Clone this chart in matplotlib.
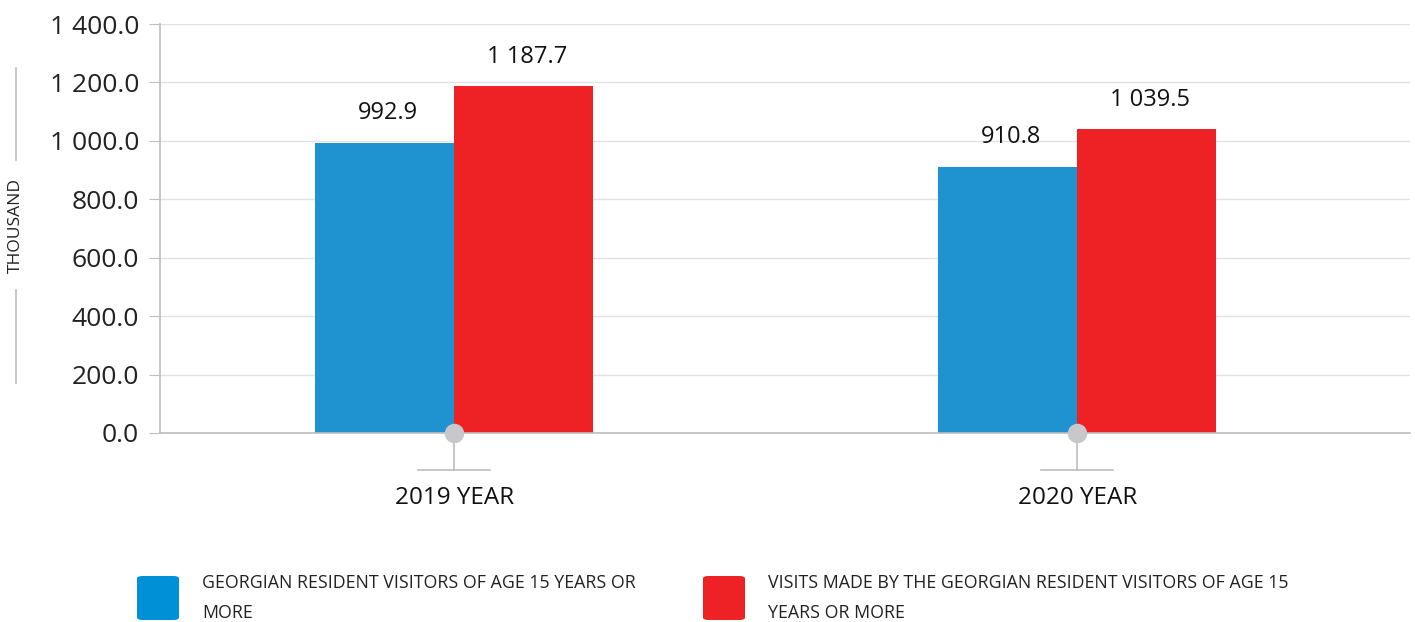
import matplotlib
matplotlib.use("Agg")
import matplotlib.pyplot as plt
from matplotlib.patches import FancyBboxPatch
from matplotlib.lines import Line2D
import numpy as np

categories = ["2019 YEAR", "2020 YEAR"]
residents = [992.9, 910.8]
visits = [1187.7, 1039.5]
series_names = ["GEORGIAN RESIDENT VISITORS OF AGE 15 YEARS OR\nMORE",
                "VISITS MADE BY THE GEORGIAN RESIDENT VISITORS OF AGE 15\nYEARS OR MORE"]
yticks = [0, 200, 400, 600, 800, 1000, 1200, 1400]

BLUE = "#1f93d0"
RED = "#ee2125"
GRID = "#e3e3e3"
AXC = "#bdbdbd"

plt.rcParams['font.family'] = ['Open Sans', 'DejaVu Sans']

def fmt(v):
    s = f"{v:,.1f}"
    return s.replace(",", " ")

fig = plt.figure(figsize=(14.15, 6.22), dpi=100)
ax = fig.add_axes([160/1415, 1-433/622, 1250/1415, (433-24)/622])

x = np.arange(len(categories))
w = 0.223
ax.bar(x - w/2, residents, w, color=BLUE, zorder=2)
ax.bar(x + w/2, visits, w, color=RED, zorder=2)

for xi, v in zip(x - w/2, residents):
    ax.text(xi + 0.006, v + 103, fmt(v), ha="center", va="center", fontsize=17, color="#111111")
for xi, v in zip(x + w/2, visits):
    ax.text(xi + 0.006, v + 100, fmt(v), ha="center", va="center", fontsize=17, color="#111111")

ax.set_xlim(-0.472, 1.534)
ax.set_ylim(0, 1400)
ax.set_yticks(yticks)
ax.set_yticklabels([fmt(t) for t in yticks], fontsize=19, color="#222222")
ax.yaxis.grid(True, color=GRID, linewidth=1, zorder=0)
ax.set_axisbelow(True)
for s in ["top", "right"]:
    ax.spines[s].set_visible(False)
ax.spines["left"].set_color(AXC)
ax.spines["bottom"].set_color(AXC)
ax.spines["left"].set_linewidth(1.2)
ax.spines["bottom"].set_linewidth(1.2)
ax.tick_params(axis="y", length=8, color=AXC, pad=7)
ax.set_xticks([])

# category markers and labels
for xi, c in zip(x, categories):
    ax.plot([xi], [0], marker="o", markersize=13, color="#c8c8cc", clip_on=False, zorder=5)
    ax.plot([xi, xi], [0, -37/409*1400], color=AXC, lw=1.2, clip_on=False, zorder=4)
    ax.plot([xi - 36/623, xi + 36/623], [-37/409*1400]*2, color=AXC, lw=1.2, clip_on=False, zorder=4)
    ax.text(xi, -65/409*1400, c, ha="center", va="center", fontsize=17.5, color="#111111")

# y label with lines
fig.text(16/1415, 1-225/622, "THOUSAND", rotation=90, ha="center", va="center", fontsize=12.5, color="#222222")
fig.add_artist(Line2D([16/1415, 16/1415], [1-68/622, 1-160/622], color=AXC, lw=1.2))
fig.add_artist(Line2D([16/1415, 16/1415], [1-290/622, 1-383/622], color=AXC, lw=1.2))

# legend
for (lx, tx, col, name) in [(137, 202, "#0090d6", series_names[0]), (703, 768, RED, series_names[1])]:
    p = FancyBboxPatch((lx/1415, 1-620/622), 42/1415, 44/622,
                       boxstyle="round,pad=0,rounding_size=0.004", transform=fig.transFigure,
                       facecolor=col, edgecolor="none")
    fig.add_artist(p)
    fig.text(tx/1415, 1-598/622, name, ha="left", va="center", fontsize=12.8,
             color="#222222", linespacing=1.8)

fig.savefig("out.png", dpi=100)
